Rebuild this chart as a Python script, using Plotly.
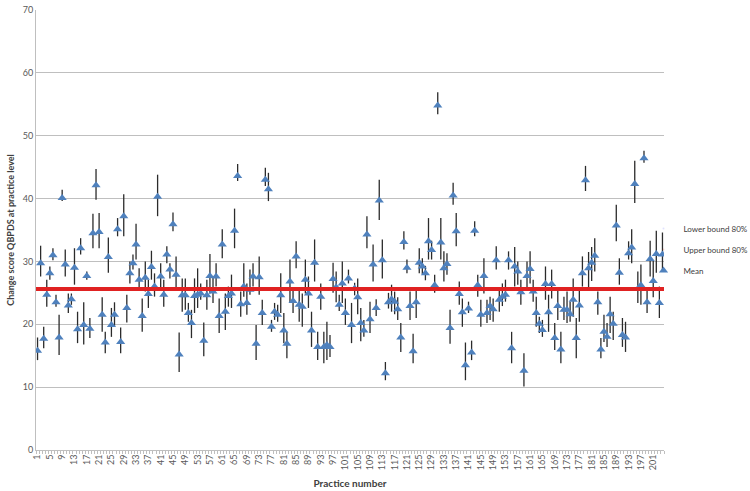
import plotly.graph_objects as go

# Practice-level change scores (QBPDS): mean with 80% interval bounds
practice = list(range(1, 205))

mean = [
    15.8, 29.7, 17.7, 24.7, 28.1, 31.0, 23.5, 17.9, 40.1, 29.5,
    23.0, 24.0, 29.0, 19.2, 32.1, 19.9, 27.7, 19.3, 34.5, 42.1,
    34.7, 21.5, 17.1, 30.7, 19.9, 21.5, 35.1, 17.2, 37.2, 22.6,
    28.1, 29.7, 32.7, 27.1, 21.3, 27.4, 24.8, 29.1, 26.0, 40.3,
    27.6, 24.7, 31.1, 28.7, 35.9, 27.9, 15.2, 24.6, 24.6, 21.8,
    20.2, 24.5, 24.7, 24.9, 17.4, 24.6, 27.7, 25.2, 27.6, 21.3,
    32.7, 22.0, 24.5, 24.9, 34.9, 43.6, 23.2, 26.0, 23.4, 25.5,
    27.6, 16.9, 27.5, 21.8, 43.0, 41.5, 19.6, 22.0, 21.5, 24.6,
    19.0, 16.9, 26.8, 23.7, 30.8, 23.1, 22.8, 27.1, 24.9, 19.0,
    29.8, 16.4, 24.4, 16.4, 16.7, 16.4, 27.2, 25.9, 23.1, 26.5,
    21.8, 27.3, 19.9, 25.7, 24.3, 20.2, 19.0, 34.3, 20.8, 29.5,
    22.6, 39.7, 30.2, 12.2, 23.5, 24.0, 23.6, 22.4, 17.9, 33.1,
    29.0, 22.9, 15.7, 23.5, 29.8, 29.2, 28.1, 33.2, 31.8, 26.2,
    54.8, 33.0, 28.9, 29.6, 19.4, 40.5, 34.8, 24.8, 21.9, 13.5,
    22.5, 15.5, 34.9, 26.2, 21.5, 27.7, 21.8, 22.9, 22.4, 30.2,
    23.9, 24.4, 24.7, 30.2, 16.2, 29.2, 28.4, 25.1, 12.6, 27.7,
    28.8, 25.2, 21.8, 20.1, 19.1, 26.4, 21.9, 26.4, 17.8, 22.9,
    16.0, 22.3, 22.3, 21.6, 23.9, 17.8, 23.0, 28.1, 42.9, 28.9,
    29.8, 30.9, 23.5, 16.0, 18.8, 18.0, 21.6, 20.1, 35.7, 28.2,
    18.3, 17.9, 31.3, 32.2, 42.3, 25.6, 26.2, 46.4, 23.5, 30.4,
    26.9, 31.2, 23.4, 31.1,
]

lower_80 = [
    14.3, 27.6, 16.2, 22.8, 27.1, 30.2, 22.8, 15.1, 39.6, 27.6,
    21.8, 23.1, 26.3, 17.0, 31.1, 16.8, 27.1, 17.8, 32.1, 39.8,
    32.1, 18.8, 15.4, 28.2, 18.0, 19.6, 34.0, 15.4, 34.0, 20.3,
    26.5, 28.7, 30.3, 25.7, 18.8, 25.2, 22.6, 27.1, 24.4, 37.2,
    25.7, 22.8, 29.7, 27.3, 34.8, 25.7, 12.4, 22.0, 22.3, 20.4,
    17.8, 21.8, 22.6, 23.9, 14.9, 22.3, 24.9, 23.4, 26.0, 18.6,
    30.5, 19.1, 22.8, 22.6, 32.1, 42.8, 21.2, 24.4, 21.5, 24.7,
    26.0, 14.3, 24.7, 19.9, 42.0, 39.6, 18.8, 20.7, 20.4, 21.8,
    17.0, 14.6, 23.4, 21.8, 28.9, 20.4, 19.6, 24.9, 22.6, 16.4,
    26.8, 14.3, 22.3, 13.8, 14.3, 14.8, 25.0, 23.5, 22.1, 23.4,
    19.9, 26.5, 17.0, 24.6, 21.6, 17.3, 18.0, 32.1, 18.6, 26.8,
    21.3, 36.6, 27.3, 11.1, 22.5, 22.0, 21.6, 20.7, 15.6, 31.9,
    28.1, 20.7, 13.8, 21.0, 28.1, 28.0, 27.0, 30.3, 30.3, 25.0,
    53.4, 30.3, 26.8, 27.9, 16.9, 39.0, 32.4, 23.1, 19.6, 11.1,
    21.8, 14.3, 34.0, 24.4, 19.6, 24.9, 20.2, 20.7, 20.4, 28.7,
    22.0, 22.9, 23.6, 28.7, 13.8, 26.0, 26.3, 23.1, 10.1, 25.5,
    26.5, 23.6, 19.6, 18.6, 18.0, 23.9, 18.8, 24.1, 15.9, 20.7,
    13.8, 20.7, 20.2, 20.4, 21.2, 14.6, 20.4, 26.0, 41.2, 25.7,
    26.9, 28.4, 21.5, 14.6, 17.2, 16.4, 18.6, 17.5, 33.2, 26.3,
    16.4, 15.6, 30.3, 29.7, 39.3, 23.4, 23.1, 45.7, 21.8, 27.6,
    24.3, 28.2, 21.0, 28.5,
]

upper_80 = [
    17.9, 32.5, 19.6, 27.1, 29.2, 32.1, 24.7, 21.5, 41.4, 31.9,
    24.9, 24.9, 32.1, 22.0, 33.7, 23.5, 28.4, 21.0, 37.6, 44.7,
    37.7, 24.3, 18.8, 33.8, 22.6, 23.5, 36.9, 19.5, 40.7, 24.7,
    30.0, 31.1, 36.0, 28.9, 24.1, 30.0, 27.1, 31.7, 28.1, 43.8,
    29.7, 27.1, 32.4, 29.7, 37.8, 30.8, 18.7, 27.3, 27.3, 23.4,
    22.3, 27.3, 28.9, 26.5, 20.3, 27.1, 31.2, 27.6, 29.7, 24.1,
    35.1, 24.9, 26.0, 27.9, 38.4, 45.5, 25.2, 29.7, 26.5, 28.7,
    29.7, 19.9, 30.8, 23.9, 44.9, 44.1, 20.7, 23.4, 23.1, 28.1,
    21.8, 18.8, 30.3, 25.5, 33.2, 25.7, 24.9, 30.3, 27.6, 22.0,
    33.5, 18.8, 26.5, 18.8, 20.4, 18.3, 29.8, 28.4, 24.7, 30.0,
    24.1, 28.7, 23.4, 26.6, 27.3, 22.6, 20.7, 37.2, 23.6, 32.7,
    24.0, 43.0, 33.5, 14.0, 25.0, 26.3, 25.2, 24.3, 20.2, 34.8,
    30.3, 25.2, 18.5, 25.9, 32.1, 30.5, 29.3, 36.9, 33.3, 27.9,
    56.9, 36.9, 31.6, 31.3, 22.3, 42.5, 37.7, 26.8, 24.1, 17.1,
    23.6, 17.4, 36.4, 27.9, 23.9, 30.5, 23.9, 24.4, 24.1, 32.4,
    25.5, 26.5, 27.1, 31.6, 18.8, 32.3, 30.0, 27.1, 15.4, 30.0,
    31.6, 27.1, 24.4, 21.2, 20.7, 29.2, 24.7, 28.7, 20.2, 25.5,
    18.8, 24.4, 25.2, 23.6, 27.3, 21.0, 25.5, 30.8, 45.2, 31.5,
    32.3, 33.7, 25.2, 17.8, 21.5, 20.2, 24.4, 22.0, 39.0, 30.5,
    21.0, 20.4, 33.2, 35.1, 46.0, 28.4, 29.5, 47.6, 25.7, 33.3,
    30.1, 34.9, 26.0, 34.6,
]

overall_mean = 25.6

x_tick_vals = list(range(1, 205, 4))
x_tick_text = [str(v) for v in x_tick_vals]

err_plus = [u - m for u, m in zip(upper_80, mean)]
err_minus = [m - l for m, l in zip(mean, lower_80)]

FONT = "Lato, 'Liberation Sans', sans-serif"
TEXT = "#404040"
GRID = "#bfbfbf"

fig = go.Figure()

# Bound series: listed in the legend, drawn as the vertical interval lines
fig.add_trace(go.Scatter(
    x=practice, y=lower_80, name="Lower bound 80%", mode="markers",
    marker=dict(size=1, opacity=0), hoverinfo="skip", legendgroup="a",
))
fig.add_trace(go.Scatter(
    x=practice, y=upper_80, name="Upper bound 80%", mode="markers",
    marker=dict(size=1, opacity=0), hoverinfo="skip", legendgroup="b",
))

# Mean per practice with its 80% interval
fig.add_trace(go.Scatter(
    x=practice, y=mean, name="Mean", mode="markers", legendgroup="c",
    marker=dict(symbol="triangle-up", size=8, color="#4F81BD"),
    error_y=dict(type="data", symmetric=False, array=err_plus,
                 arrayminus=err_minus, color="#2b2b2b", thickness=1.3, width=0),
))

# Overall mean reference line
fig.add_trace(go.Scatter(
    x=[practice[0] - 0.5, practice[-1] + 0.5], y=[overall_mean, overall_mean],
    mode="lines", line=dict(color="#e02222", width=4),
    showlegend=False, hoverinfo="skip", cliponaxis=False,
))

fig.update_layout(
    width=750, height=491,
    margin=dict(l=36, r=86, t=10, b=41, autoexpand=False),
    paper_bgcolor="white", plot_bgcolor="white",
    font=dict(family=FONT, size=9, color=TEXT),
    showlegend=True,
    legend=dict(
        xref="container", yref="container",
        x=0.858, y=0.564, xanchor="left", yanchor="top",
        bgcolor="rgba(0,0,0,0)", font=dict(size=8, color=TEXT),
        tracegroupgap=2, itemwidth=30,
    ),
    xaxis=dict(
        range=[0.5, 204.5], tickmode="array", tickvals=x_tick_vals,
        ticktext=x_tick_text, tickangle=-90, ticks="",
        tickfont=dict(size=9, color="#595959"),
        showgrid=False, zeroline=False, automargin=False,
        showline=True, linecolor=GRID, linewidth=1,
        minor=dict(tick0=0.5, dtick=1, ticks="outside", ticklen=3,
                   tickcolor=GRID, showgrid=False),
        title=dict(text="<b>Practice number</b>", font=dict(size=10, color=TEXT),
                   standoff=10),
    ),
    yaxis=dict(
        range=[0, 70], dtick=10, ticks="", showgrid=True, gridcolor=GRID,
        gridwidth=1, zeroline=False, showline=True, linecolor=GRID,
        tickfont=dict(size=9, color="#595959"),
        title=dict(text="<b>Change score QBPDS at practice level</b>",
                   font=dict(size=9, color=TEXT), standoff=6),
    ),
)

fig.write_html("out.html")
